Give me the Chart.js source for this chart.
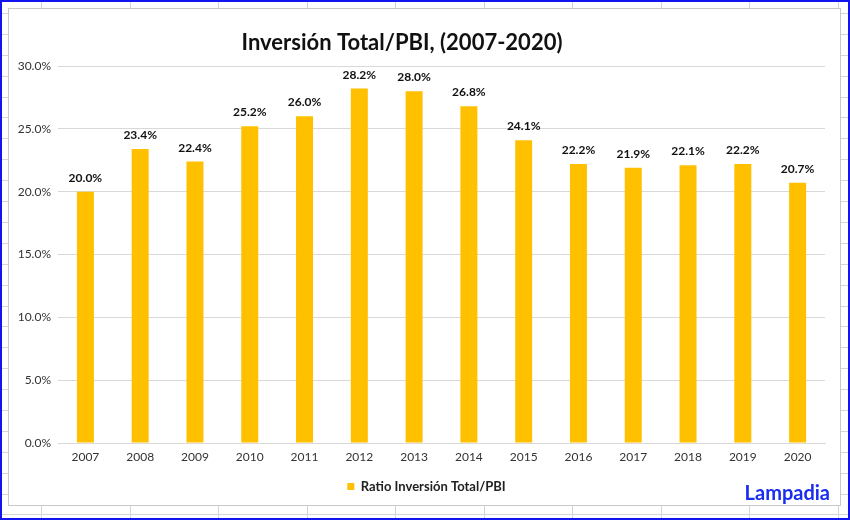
<!DOCTYPE html>
<html>
<head>
<meta charset="utf-8">
<script src="https://cdn.jsdelivr.net/npm/chart.js@4"></script>
<style>
  html, body { margin: 0; padding: 0; background: #fff; }
  #wrap { position: relative; width: 850px; height: 520px; }
  canvas { display: block; }
</style>
</head>
<body>
<div id="wrap"><canvas id="c" width="850" height="520"></canvas></div>
<script>
const years = ['2007','2008','2009','2010','2011','2012','2013','2014','2015','2016','2017','2018','2019','2020'];
const ratio = [20.0, 23.4, 22.4, 25.2, 26.0, 28.2, 28.0, 26.8, 24.1, 22.2, 21.9, 22.1, 22.2, 20.7];
const seriesName = 'Ratio Inversión Total/PBI';
const titleText = 'Inversión Total/PBI, (2007-2020)';
const brandText = 'Lampadia';

const FONT = 'Lato, "Open Sans", sans-serif';

const frame = {
  id: 'frame',
  afterLayout(chart) {
    if (chart.legend) { chart.legend.left += 10; chart.legend.right += 10; }
  },
  beforeDraw(chart) {
    const ctx = chart.ctx, W = chart.width, H = chart.height;
    ctx.save();
    ctx.fillStyle = '#ffffff';
    ctx.fillRect(0, 0, W, H);
    // spreadsheet grid
    ctx.strokeStyle = '#d4d4d4';
    ctx.lineWidth = 1;
    ctx.beginPath();
    for (let x = 41; x < W; x += 88.5) { ctx.moveTo(Math.round(x) + 0.5, 0); ctx.lineTo(Math.round(x) + 0.5, H); }
    for (let y = 138.3 - 20.9 * 7; y < H; y += 20.9) { ctx.moveTo(0, Math.round(y) + 0.5); ctx.lineTo(W, Math.round(y) + 0.5); }
    ctx.stroke();
    // chart white area
    ctx.fillStyle = '#ffffff';
    ctx.fillRect(8, 8, 833, 498);
    ctx.strokeStyle = '#c8c8c8';
    ctx.strokeRect(8.5, 8.5, 832, 497);
    // blue outer border
    ctx.strokeStyle = '#1414f0';
    ctx.lineWidth = 2;
    ctx.strokeRect(1, 1, W - 2, H - 2);
    ctx.restore();
  },
  afterDraw(chart) {
    const ctx = chart.ctx;
    ctx.save();
    // title
    ctx.font = 'bold 22px ' + FONT;
    ctx.fillStyle = '#111111';
    ctx.textAlign = 'center';
    ctx.textBaseline = 'middle';
    ctx.fillText(titleText, 402, 43);
    // data labels
    const meta = chart.getDatasetMeta(0);
    ctx.font = 'bold 12px ' + FONT;
    ctx.fillStyle = '#111111';
    ctx.textAlign = 'center';
    ctx.textBaseline = 'alphabetic';
    meta.data.forEach((bar, i) => {
      ctx.fillText(ratio[i].toFixed(1) + '%', bar.x, bar.y - 10);
    });
    // brand
    ctx.font = 'bold 20px ' + FONT;
    ctx.fillStyle = '#1a2cf0';
    ctx.textAlign = 'right';
    ctx.textBaseline = 'alphabetic';
    ctx.fillText(brandText, 830, 500);
    ctx.restore();
  }
};

new Chart(document.getElementById('c'), {
  type: 'bar',
  data: {
    labels: years,
    datasets: [{
      label: seriesName,
      data: ratio,
      backgroundColor: '#ffc000',
      borderWidth: 0,
      barPercentage: 0.31,
      categoryPercentage: 1.0
    }]
  },
  options: {
    responsive: false,
    animation: false,
    devicePixelRatio: 1,
    layout: { padding: { left: 8, right: 25, top: 66, bottom: 17 } },
    plugins: {
      title: { display: false },
      legend: {
        display: true,
        position: 'bottom',
        labels: {
          color: '#222222',
          font: { family: FONT, size: 13, weight: 'bold' },
          boxWidth: 7,
          boxHeight: 7,
          padding: 6
        }
      },
      tooltip: { enabled: false }
    },
    scales: {
      x: {
        afterFit(scale) { scale.height = 31; },
        grid: { display: false, drawTicks: false },
        border: { display: true, color: '#d9d9d9' },
        ticks: { color: '#333333', font: { family: FONT, size: 12 }, padding: 7 }
      },
      y: {
        min: 0,
        max: 30,
        afterFit(scale) { scale.width = 50; },
        grid: { color: '#d9d9d9', drawTicks: false },
        border: { display: false },
        ticks: {
          stepSize: 5,
          padding: 7,
          color: '#333333',
          font: { family: FONT, size: 12 },
          callback: v => v.toFixed(1) + '%'
        }
      }
    }
  },
  plugins: [frame]
});
</script>
</body>
</html>
